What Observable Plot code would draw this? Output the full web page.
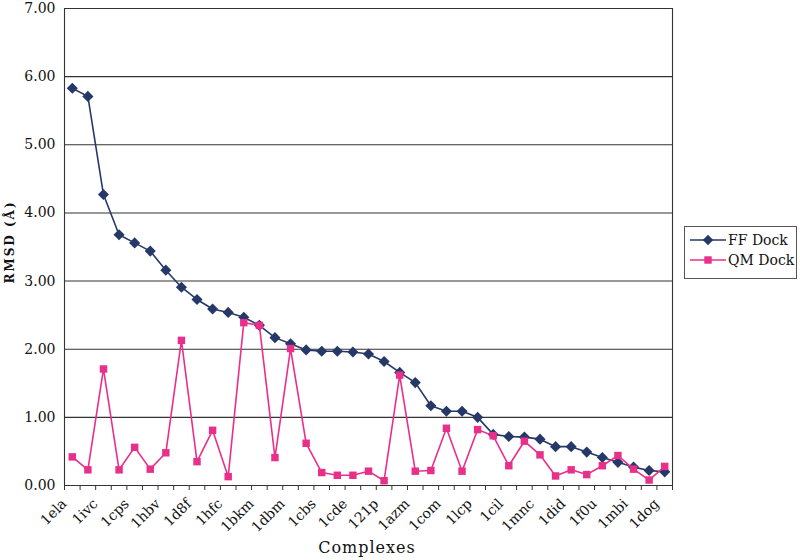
<!DOCTYPE html>
<html><head><meta charset="utf-8">
<script src="https://cdn.jsdelivr.net/npm/d3@7"></script>
<script src="https://cdn.jsdelivr.net/npm/@observablehq/plot@0.6"></script>
<style>
body{margin:0;background:#fff;}
#wrap{position:relative;width:800px;height:560px;font-family:"DejaVu Serif",serif;overflow:hidden;}
#wrap svg.plot{position:absolute;left:0;top:0;}
#legend{position:absolute;left:684px;top:226px;}
#ytitle{position:absolute;left:10px;top:242px;transform:translate(-50%,-50%) rotate(-90deg);font-size:12px;font-weight:bold;letter-spacing:2px;white-space:nowrap;color:#111;}
#xtitle{position:absolute;left:367px;top:538px;transform:translateX(-50%);font-size:16px;letter-spacing:1px;white-space:nowrap;color:#111;}
</style></head><body>
<div id="wrap"><div id="ytitle">RMSD (Å)</div><div id="xtitle">Complexes</div><div id="legend"></div></div>
<script>
// Tick labels (every other complex is labelled)
const labels = ["1ela","1ivc","1cps","1hbv","1d8f","1hfc","1bkm","1dbm","1cbs","1cde","121p","1azm","1com","1lcp","1cil","1mnc","1did","1f0u","1mbi","1dog"];
// Series values (RMSD, Å), 39 complexes in order
const ffDock = [5.83,5.71,4.27,3.68,3.56,3.44,3.16,2.91,2.73,2.59,2.54,2.47,2.35,2.17,2.08,1.99,1.97,1.97,1.96,1.93,1.82,1.66,1.51,1.17,1.09,1.09,1.00,0.75,0.72,0.71,0.68,0.57,0.57,0.49,0.41,0.34,0.27,0.22,0.20];
const qmDock = [0.42,0.23,1.71,0.23,0.56,0.24,0.48,2.13,0.35,0.81,0.13,2.39,2.35,0.41,2.01,0.62,0.19,0.15,0.15,0.21,0.07,1.62,0.21,0.22,0.84,0.21,0.82,0.73,0.29,0.65,0.45,0.14,0.23,0.16,0.29,0.44,0.24,0.08,0.28];
const yTicks = [0,1,2,3,4,5,6,7];
const seriesNames = ["FF Dock","QM Dock"];
const colors = ["#253868","#e8308a"];

const n = ffDock.length;
const ffRows = ffDock.map((v,i) => ({x: i + 0.5, y: v}));
const qmRows = qmDock.map((v,i) => ({x: i + 0.5, y: v}));
const labelRows = labels.map((l,k) => ({x: 2*k + 0.5, label: l}));

const chart = Plot.plot({
  width: 800, height: 560,
  marginLeft: 64, marginRight: 128, marginTop: 8, marginBottom: 75,
  style: {fontFamily: "'DejaVu Serif', serif", fontSize: "13px", color: "#111", background: "transparent"},
  x: {domain: [0, n]},
  y: {domain: [0, 7]},
  marks: [
    Plot.ruleY(yTicks, {stroke: "#333", strokeWidth: 1.1}),
    Plot.ruleX([0, n], {stroke: "#333", strokeWidth: 1.1}),
    Plot.axisY({ticks: yTicks, tickFormat: d3.format(".2f"), tickSize: 0, tickPadding: 9, fontSize: 14, label: null}),
    Plot.axisX({ticks: d3.range(n + 1), tickSize: 5, tickFormat: () => "", label: null, stroke: "#333"}),
    Plot.text(labelRows, {x: "x", y: () => 0, text: "label", rotate: -45, textAnchor: "end", dx: -8, dy: 16, fontSize: 14}),
    Plot.line(ffRows, {x: "x", y: "y", stroke: colors[0], strokeWidth: 1.6}),
    Plot.dot(ffRows, {x: "x", y: "y", symbol: "diamond2", fill: colors[0], stroke: "none", r: 5}),
    Plot.line(qmRows, {x: "x", y: "y", stroke: colors[1], strokeWidth: 1.6}),
    Plot.dot(qmRows, {x: "x", y: "y", symbol: "square", fill: colors[1], stroke: "none", r: 4.2})
  ]
});
chart.classList.add("plot");
document.getElementById("wrap").prepend(chart);

// Legend
const lg = d3.select("#legend").append("svg").attr("width", 114).attr("height", 54);
lg.append("rect").attr("x", 0.5).attr("y", 0.5).attr("width", 112).attr("height", 52)
  .attr("fill", "#fff").attr("stroke", "#555");
const symbols = [d3.symbolDiamond2, d3.symbolSquare];
const sizes = [70, 55];
seriesNames.forEach((name, k) => {
  const cy = 14 + k * 20;
  lg.append("line").attr("x1", 6).attr("x2", 42).attr("y1", cy).attr("y2", cy)
    .attr("stroke", colors[k]).attr("stroke-width", 1.6);
  lg.append("path").attr("d", d3.symbol(symbols[k], sizes[k])())
    .attr("transform", `translate(24,${cy})`).attr("fill", colors[k]);
  lg.append("text").attr("x", 44).attr("y", cy + 5).text(name)
    .attr("font-family", "'DejaVu Serif', serif").attr("font-size", 14).attr("fill", "#111");
});
</script>
</body></html>
